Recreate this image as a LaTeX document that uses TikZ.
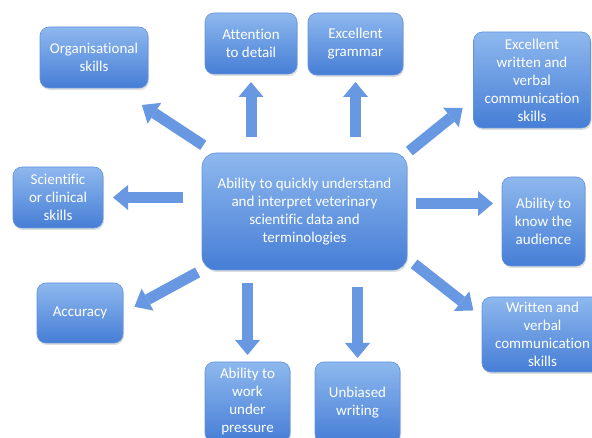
\documentclass[tikz,border=0pt]{standalone}
\usepackage{fontspec}
\setmainfont{Carlito}[Ligatures=NoCommon]
\usepackage{tikz}
\usetikzlibrary{arrows.meta, calc, shadows}
\definecolor{boxtop}{RGB}{142, 184, 238}
\definecolor{boxbot}{RGB}{70, 126, 214}
\definecolor{boxedge}{RGB}{98, 146, 222}
\definecolor{arrcolor}{RGB}{104, 152, 226}

\begin{document}
\begin{tikzpicture}[x=1pt, y=-1pt,
    skill/.style={rectangle, rounded corners=9pt, top color=boxtop, bottom color=boxbot,
        draw=boxedge, line width=0.6pt, text=white, align=center,
        font=\fontsize{15}{18}\selectfont, inner sep=0pt, outer sep=0pt,
        drop shadow={opacity=0.25, shadow xshift=1pt, shadow yshift=-2pt}},
    barrow/.style={draw=arrcolor, line width=11pt, -{Triangle[width=25pt, length=15pt, line width=0pt]}},
]
    \useasboundingbox (0,0) rectangle (592,438);

    \node[skill, minimum width=205pt, minimum height=117pt, rounded corners=14pt] (hub) at (304.5,211.5)
        {Ability to quickly understand\\and interpret veterinary\\scientific data and\\terminologies};

    \node[skill, minimum width=108pt, minimum height=61pt] (org) at (94,57.5) {Organisational\\skills};
    \node[skill, minimum width=92pt, minimum height=61pt] (att) at (251,43.5) {Attention\\to detail};
    \node[skill, minimum width=95pt, minimum height=62pt] (gram) at (355.5,44) {Excellent\\grammar};
    \node[skill, minimum width=117pt, minimum height=96pt] (ewv) at (532,80)
        {Excellent\\written and\\verbal\\communication\\skills};
    \node[skill, minimum width=90pt, minimum height=61pt] (sci) at (58,197.5) {Scientific\\or clinical\\skills};
    \node[skill, minimum width=83pt, minimum height=89pt] (aud) at (543.5,221.5) {Ability to\\know the\\audience};
    \node[skill, minimum width=86pt, minimum height=60pt] (acc) at (80,313) {Accuracy};
    \node[skill, minimum width=85pt, minimum height=80pt] (wup) at (247.5,402) {Ability to\\work\\under\\pressure};
    \node[skill, minimum width=85pt, minimum height=81pt] (unb) at (357.5,402.5) {Unbiased\\writing};
    \node[skill, minimum width=121pt, minimum height=75pt] (wvc) at (542.5,334.5)
        {Written and\\verbal\\communication\\skills};

    % arrows out of the hub
    \draw[barrow, shorten <=14pt, shorten >=31pt] ($(hub.north west)+(13,0)$) -- ($(org.south)+(22,0)$);
    \draw[barrow, shorten <=16pt, shorten >=8pt] (hub.north -| att) -- (att.south);
    \draw[barrow, shorten <=16pt, shorten >=7pt] (hub.north -| gram) -- (gram.south);
    \draw[barrow, shorten <=3pt, shorten >=14pt] (hub.north east) -- ($(ewv.west)!0.4!(ewv.south west)$);
    \draw[barrow, shorten <=19pt, shorten >=10pt] (hub.west |- sci) -- (sci.east);
    \draw[barrow, shorten <=9pt, shorten >=9pt] ([yshift=8pt]hub.east) -- ([yshift=8pt]hub.east -| aud.west);
    \draw[barrow, shorten <=5pt, shorten >=13pt] (hub.south west) -- (acc.east);
    \draw[barrow, shorten <=13pt, shorten >=7pt] (hub.south -| wup) -- (wup.north);
    \draw[barrow, shorten <=17pt, shorten >=4pt] (hub.south -| unb) -- (unb.north);
    \draw[barrow, shorten <=9pt, shorten >=11pt] ($(hub.east)!0.8!(hub.south east)$) -- ($(wvc.north west)!0.54!(wvc.west)$);
\end{tikzpicture}
\end{document}
